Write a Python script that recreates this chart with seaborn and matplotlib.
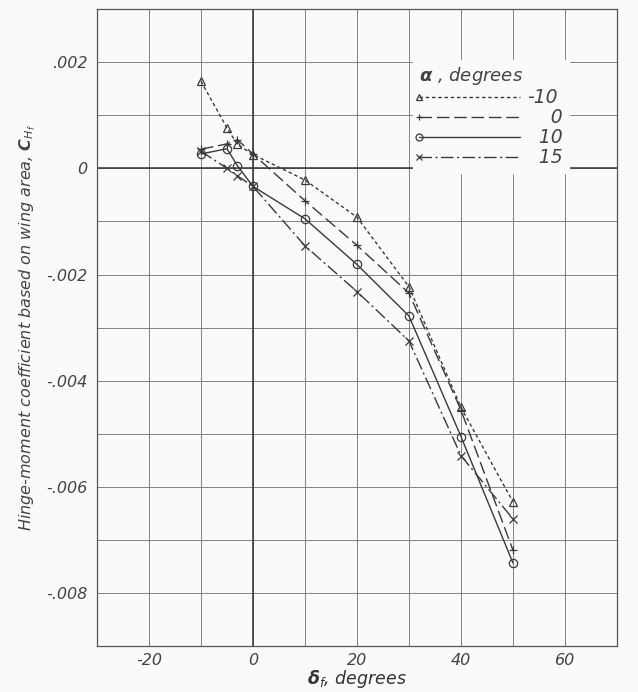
import numpy as np
import pandas as pd
import matplotlib
matplotlib.use("Agg")
import matplotlib.pyplot as plt
import seaborn as sns
from matplotlib.lines import Line2D
from matplotlib.legend_handler import HandlerLine2D
from matplotlib.ticker import MultipleLocator, FuncFormatter

# flap deflection, degrees
delta_f = [-10, -5, -3, 0, 10, 20, 30, 40, 50]

# hinge-moment coefficient per angle of attack
ch_m10 = [0.00164, 0.00076, 0.00045, 0.00026, -0.00022, -0.00092, -0.00223, -0.00450, -0.00628]
ch_0 = [0.00036, 0.00046, 0.00054, 0.00027, -0.00061, -0.00145, -0.00235, -0.00455, -0.00719]
ch_10 = [0.00027, 0.00037, 0.00005, -0.00034, -0.00095, -0.00181, -0.00278, -0.00505, -0.00743]
ch_15 = [0.00032, 0.00000, -0.00014, -0.00034, -0.00146, -0.00232, -0.00325, -0.00541, -0.00660]

alphas = ["-10", "0", "10", "15"]
series = [ch_m10, ch_0, ch_10, ch_15]

df = pd.concat([pd.DataFrame({"delta": delta_f, "ch": s, "alpha": a})
                for a, s in zip(alphas, series)], ignore_index=True)

ink = "#3a3a3a"
dashes = {"-10": (2.5, 2), "0": (9, 3.5), "10": "", "15": (9, 2.5, 1.5, 2.5)}
markers = {"-10": "^", "0": "+", "10": "o", "15": "x"}

sns.set_style("white")
plt.rcParams["font.family"] = ["DejaVu Sans"]
plt.rcParams["font.style"] = "italic"
plt.rcParams["axes.unicode_minus"] = False

fig = plt.figure(figsize=(6.38, 6.92), dpi=100, facecolor="#fafafa")
ax = fig.add_axes([0.152, 0.066, 0.815, 0.921])
ax.set_facecolor("#fafafa")

for a in alphas:
    sub = df[df["alpha"] == a]
    sns.lineplot(data=sub, x="delta", y="ch", color=ink, linewidth=1.0,
                 marker=markers[a], markersize=6, mfc="none", mec=ink, mew=0.9,
                 legend=False, sort=False, ax=ax)
    line = ax.lines[-1]
    if dashes[a]:
        line.set_dashes(dashes[a])
    else:
        line.set_linestyle("-")

ax.set_xlim(-30, 70)
ax.set_ylim(-0.009, 0.003)
ax.xaxis.set_major_locator(MultipleLocator(20))
ax.xaxis.set_minor_locator(MultipleLocator(10))
ax.yaxis.set_major_locator(MultipleLocator(0.002))
ax.yaxis.set_minor_locator(MultipleLocator(0.001))
ax.grid(True, which="both", color="#707070", linewidth=0.6)
ax.axhline(0, color="#333333", linewidth=1.1, zorder=1)
ax.axvline(0, color="#333333", linewidth=1.1, zorder=1)
ax.set_axisbelow(True)
ax.tick_params(which="both", length=0, labelsize=11.5, colors="#444444")
ax.tick_params(axis="x", pad=5)
ax.tick_params(axis="y", pad=7)


def yfmt(v, pos):
    if abs(v) < 1e-9:
        return "0"
    return f"{v:.3f}".replace("0.", ".")


ax.yaxis.set_major_formatter(FuncFormatter(yfmt))
for sp in ax.spines.values():
    sp.set_color("#555555")
    sp.set_linewidth(0.9)

ax.set_xlabel(r"$\mathbf{\delta}_{f}$, degrees", fontsize=12.5, color="#333333", labelpad=0)
ax.set_ylabel(r"Hinge-moment coefficient based on wing area, $\mathbf{C}_{H_f}$",
              fontsize=11.5, color="#444444", labelpad=6)


class LeftMarkerHandler(HandlerLine2D):
    def create_artists(self, legend, orig_handle, xdescent, ydescent, width,
                       height, fontsize, trans):
        arts = super().create_artists(legend, orig_handle, xdescent, ydescent,
                                      width, height, fontsize, trans)
        for art in arts:
            art.set_markevery([0])
        return arts


handles = []
for a in alphas:
    h = Line2D([], [], color=ink, linewidth=1.0, marker=markers[a], markersize=5,
               mfc="none", mec=ink, mew=0.9)
    if dashes[a]:
        h.set_dashes(dashes[a])
    handles.append(h)
labels = ["-10", "\u2007\u20070", "\u200710", "\u200715"]
leg = ax.legend(handles, labels, loc="upper right", bbox_to_anchor=(0.925, 0.935),
                title=r"$\mathbf{\alpha}$ , degrees", title_fontsize=13, fontsize=13.5,
                handlelength=5.4, handletextpad=0.4, labelspacing=0.05, borderpad=0.3,
                numpoints=1, frameon=True, fancybox=False, framealpha=1,
                edgecolor="#fafafa", facecolor="#fafafa", alignment="left",
                handler_map={Line2D: LeftMarkerHandler()})
for t in leg.get_texts():
    t.set_color("#444444")
leg.get_title().set_color("#444444")

fig.savefig("out.png", dpi=100, facecolor=fig.get_facecolor())
